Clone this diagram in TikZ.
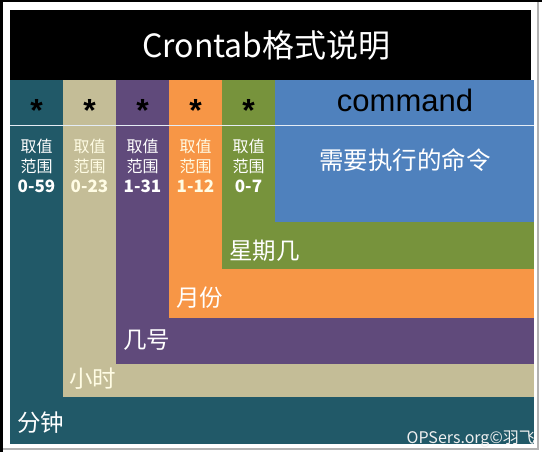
\documentclass[tikz,border=0pt]{standalone}
\usepackage{fontspec}
\setmainfont{Liberation Sans}
\newfontfamily\cjk{Noto Sans CJK SC}
\definecolor{cteal}{RGB}{33,89,104}
\definecolor{cbeige}{RGB}{196,189,151}
\definecolor{cpurple}{RGB}{96,74,123}
\definecolor{corange}{RGB}{247,150,70}
\definecolor{cgreen}{RGB}{119,147,60}
\definecolor{cblue}{RGB}{79,129,189}
\definecolor{cream}{RGB}{255,252,228}
\begin{document}
\begin{tikzpicture}[x=1pt,y=-1pt,
  band/.style={inner sep=0pt, anchor=west, text=white, font=\cjk\fontsize{23.5}{23.5}\selectfont},
  rng/.style={inner sep=0pt, align=center, text=white, font=\cjk\fontsize{16}{20}\selectfont},
  star/.style={inner sep=0pt, anchor=base, font=\bfseries\fontsize{32}{32}\selectfont}]
\useasboundingbox (0,0) rectangle (542,452);
\fill[white] (0,0) rectangle (542,452);
% frame
\fill[black] (0,0) rectangle (3,452);
\fill[black] (0,0) rectangle (542,2);
\fill[gray!60] (537,2) rectangle (539,450);
\fill[gray!60] (3,448) rectangle (539,450);
% title
\fill[black] (10,10) rectangle (531,80);
% nested bands
\fill[cteal] (10,80) rectangle (534,444);
\fill[cbeige] (63,80) rectangle (534,397);
\fill[cpurple] (116,80) rectangle (534,364);
\fill[corange] (169,80) rectangle (534,318);
\fill[cgreen] (222,80) rectangle (534,269);
\fill[cblue] (275,80) rectangle (534,222);
\draw[white!85!cblue, line width=1.2pt] (10,125.5) -- (534,125.5);
% title text
\node[inner sep=0pt, text=white, font=\cjk\fontsize{32}{32}\selectfont] (title) at (266.5,45) {Crontab格式说明};
% header
\node[star] (s1) at (36.5,122) {*};
\node[star] (s2) at (89.5,122) {*};
\node[star] (s3) at (142.5,122) {*};
\node[star] (s4) at (195.5,122) {*};
\node[star] (s5) at (248.5,122) {*};
\node[inner sep=0pt, anchor=base, font=\fontsize{31}{31}\selectfont] (cmd) at (405,112) {command};
% ranges
\node[rng] (r1) at (36.5,166) {取值\\范围\\\fontsize{17}{20}\selectfont\bfseries 0-59};
\node[rng, text=cream] (r2) at (89.5,166) {取值\\范围\\\fontsize{17}{20}\selectfont\bfseries 0-23};
\node[rng] (r3) at (142.5,166) {取值\\范围\\\fontsize{17}{20}\selectfont\bfseries 1-31};
\node[rng, text=cream] (r4) at (195.5,166) {取值\\范围\\\fontsize{17}{20}\selectfont\bfseries 1-12};
\node[rng] (r5) at (248.5,166) {取值\\范围\\\fontsize{17}{20}\selectfont\bfseries 0-7};
\node[inner sep=0pt, text=white, font=\cjk\fontsize{24.5}{24.5}\selectfont] (desc) at (405,160) {需要执行的命令};
% band labels
\node[band] (l5) at (229,251) {星期几};
\node[band] (l4) at (176,298) {月份};
\node[band] (l3) at (123,340) {几号};
\node[band, text=cream] (l2) at (69,379) {小时};
\node[band] (l1) at (17,423) {分钟};
% watermark
\node[inner sep=0pt, anchor=base east, text=gray!12, font=\cjk\fontsize{16}{16}\selectfont] (wm) at (535,443) {OPSers.org©羽飞};
\end{tikzpicture}
\end{document}
